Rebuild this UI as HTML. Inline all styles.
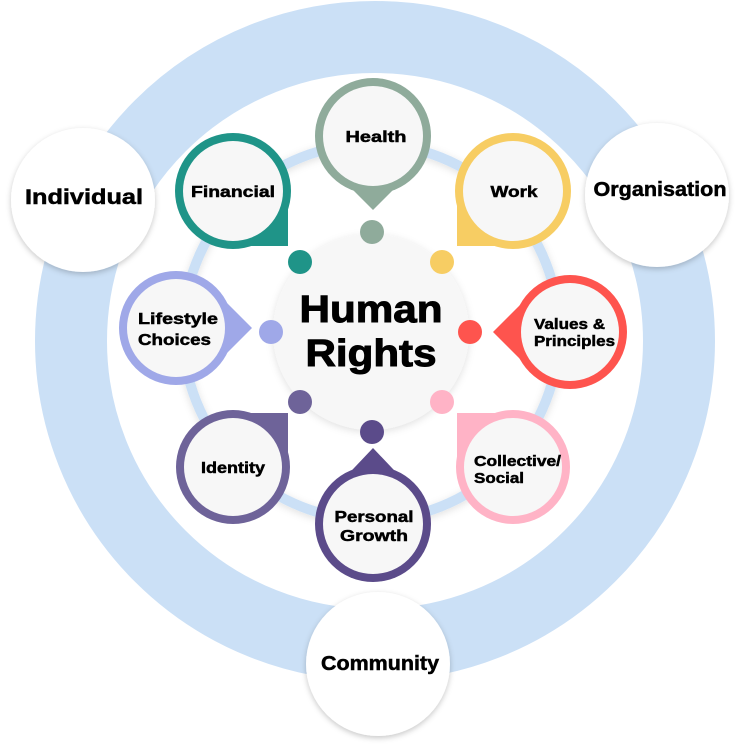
<!DOCTYPE html>
<html><head><meta charset="utf-8"><style>
html,body{margin:0;padding:0;background:#fff}
svg{display:block}
text{font-family:"Liberation Sans",Arial,sans-serif;font-weight:bold;fill:#000;stroke:#000;stroke-width:0.5}
</style></head><body>
<svg width="743" height="754" viewBox="0 0 743 754" xmlns="http://www.w3.org/2000/svg">
<defs>
<filter id="sh" x="-30%" y="-30%" width="160%" height="160%"><feDropShadow dx="0" dy="2" stdDeviation="3" flood-color="#000" flood-opacity="0.22"/></filter>
<filter id="sh2" x="-30%" y="-30%" width="160%" height="160%"><feDropShadow dx="0" dy="2" stdDeviation="4" flood-color="#000" flood-opacity="0.12"/></filter>
</defs>
<circle cx="375" cy="341" r="304" fill="none" stroke="#cbe0f6" stroke-width="72"/>
<circle cx="371" cy="332" r="188" fill="none" stroke="#cbe0f6" stroke-width="10" filter="url(#sh2)"/>
<circle cx="371" cy="332" r="98" fill="#f7f7f7" filter="url(#sh2)"/>
<text x="371" y="322" font-size="38" text-anchor="middle" textLength="143" lengthAdjust="spacingAndGlyphs" style="stroke-width:1">Human</text>
<text x="371" y="366" font-size="38" text-anchor="middle" textLength="131" lengthAdjust="spacingAndGlyphs" style="stroke-width:1">Rights</text>

<circle cx="372" cy="232" r="12" fill="#8fab9b"/>
<circle cx="442" cy="262" r="12" fill="#f7cd63"/>
<circle cx="470" cy="332" r="12" fill="#fe544e"/>
<circle cx="442" cy="402" r="12" fill="#ffb3c6"/>
<circle cx="372" cy="432" r="12" fill="#5b4b8a"/>
<circle cx="300" cy="402" r="12" fill="#6e6399"/>
<circle cx="271" cy="332" r="12" fill="#9fa8e8"/>
<circle cx="300" cy="262" r="12" fill="#1f9488"/>

<g>
<circle cx="373" cy="136" r="58" fill="#8fab9b"/>
<polygon points="336,173 373,210 410,173 373,136" fill="#8fab9b"/>
<circle cx="373" cy="136" r="50" fill="#f7f7f7"/>
<text x="376" y="142" font-size="16" text-anchor="middle" textLength="61" lengthAdjust="spacingAndGlyphs">Health</text>
</g>
<g>
<circle cx="513" cy="191" r="58" fill="#f7cd63"/>
<rect x="457" y="191" width="56" height="55" fill="#f7cd63"/>
<circle cx="513" cy="191" r="50" fill="#f7f7f7"/>
<text x="514" y="197" font-size="16" text-anchor="middle" textLength="47" lengthAdjust="spacingAndGlyphs">Work</text>
</g>
<g>
<circle cx="570" cy="332" r="57" fill="#fe544e"/>
<polygon points="530,295 493,332 530,369 570,332" fill="#fe544e"/>
<circle cx="570" cy="332" r="49" fill="#f7f7f7"/>
<text x="534" y="329" font-size="15" textLength="71" lengthAdjust="spacingAndGlyphs">Values &amp;</text>
<text x="534" y="346" font-size="15" textLength="81" lengthAdjust="spacingAndGlyphs">Principles</text>
</g>
<g>
<circle cx="513" cy="467" r="57" fill="#ffb3c6"/>
<rect x="457" y="413" width="56" height="54" fill="#ffb3c6"/>
<circle cx="513" cy="467" r="49" fill="#f7f7f7"/>
<text x="474" y="466" font-size="15" textLength="87" lengthAdjust="spacingAndGlyphs">Collective/</text>
<text x="474" y="483" font-size="15" textLength="50" lengthAdjust="spacingAndGlyphs">Social</text>
</g>
<g>
<circle cx="373" cy="524" r="58" fill="#5b4b8a"/>
<polygon points="336,487 373,448 410,487 373,524" fill="#5b4b8a"/>
<circle cx="373" cy="524" r="50" fill="#f7f7f7"/>
<text x="374" y="522" font-size="16" text-anchor="middle" textLength="79" lengthAdjust="spacingAndGlyphs">Personal</text>
<text x="374" y="541" font-size="16" text-anchor="middle" textLength="68" lengthAdjust="spacingAndGlyphs">Growth</text>
</g>
<g>
<circle cx="233" cy="467" r="57" fill="#6e6399"/>
<rect x="233" y="413" width="55" height="54" fill="#6e6399"/>
<circle cx="233" cy="467" r="49" fill="#f7f7f7"/>
<text x="233" y="473" font-size="16" text-anchor="middle" textLength="64" lengthAdjust="spacingAndGlyphs">Identity</text>
</g>
<g>
<circle cx="176" cy="328" r="57" fill="#9fa8e8"/>
<polygon points="214,290 252,328 214,366 176,328" fill="#9fa8e8"/>
<circle cx="176" cy="328" r="49" fill="#f7f7f7"/>
<text x="138" y="324" font-size="16" textLength="80" lengthAdjust="spacingAndGlyphs">Lifestyle</text>
<text x="138" y="345" font-size="16" textLength="73" lengthAdjust="spacingAndGlyphs">Choices</text>
</g>
<g>
<circle cx="233" cy="191" r="58" fill="#1f9488"/>
<rect x="233" y="191" width="55" height="55" fill="#1f9488"/>
<circle cx="233" cy="191" r="50" fill="#f7f7f7"/>
<text x="233" y="197" font-size="16" text-anchor="middle" textLength="84" lengthAdjust="spacingAndGlyphs">Financial</text>
</g>

<circle cx="83" cy="200" r="72" fill="#fff" filter="url(#sh)"/>
<text x="84" y="204" font-size="21" text-anchor="middle" textLength="118" lengthAdjust="spacingAndGlyphs">Individual</text>
<circle cx="657" cy="195" r="72" fill="#fff" filter="url(#sh)"/>
<text x="660" y="196" font-size="20" text-anchor="middle" textLength="133" lengthAdjust="spacingAndGlyphs">Organisation</text>
<circle cx="378" cy="664" r="72" fill="#fff" filter="url(#sh)"/>
<text x="380" y="670" font-size="20" text-anchor="middle" textLength="118" lengthAdjust="spacingAndGlyphs">Community</text>
</svg>
</body></html>
